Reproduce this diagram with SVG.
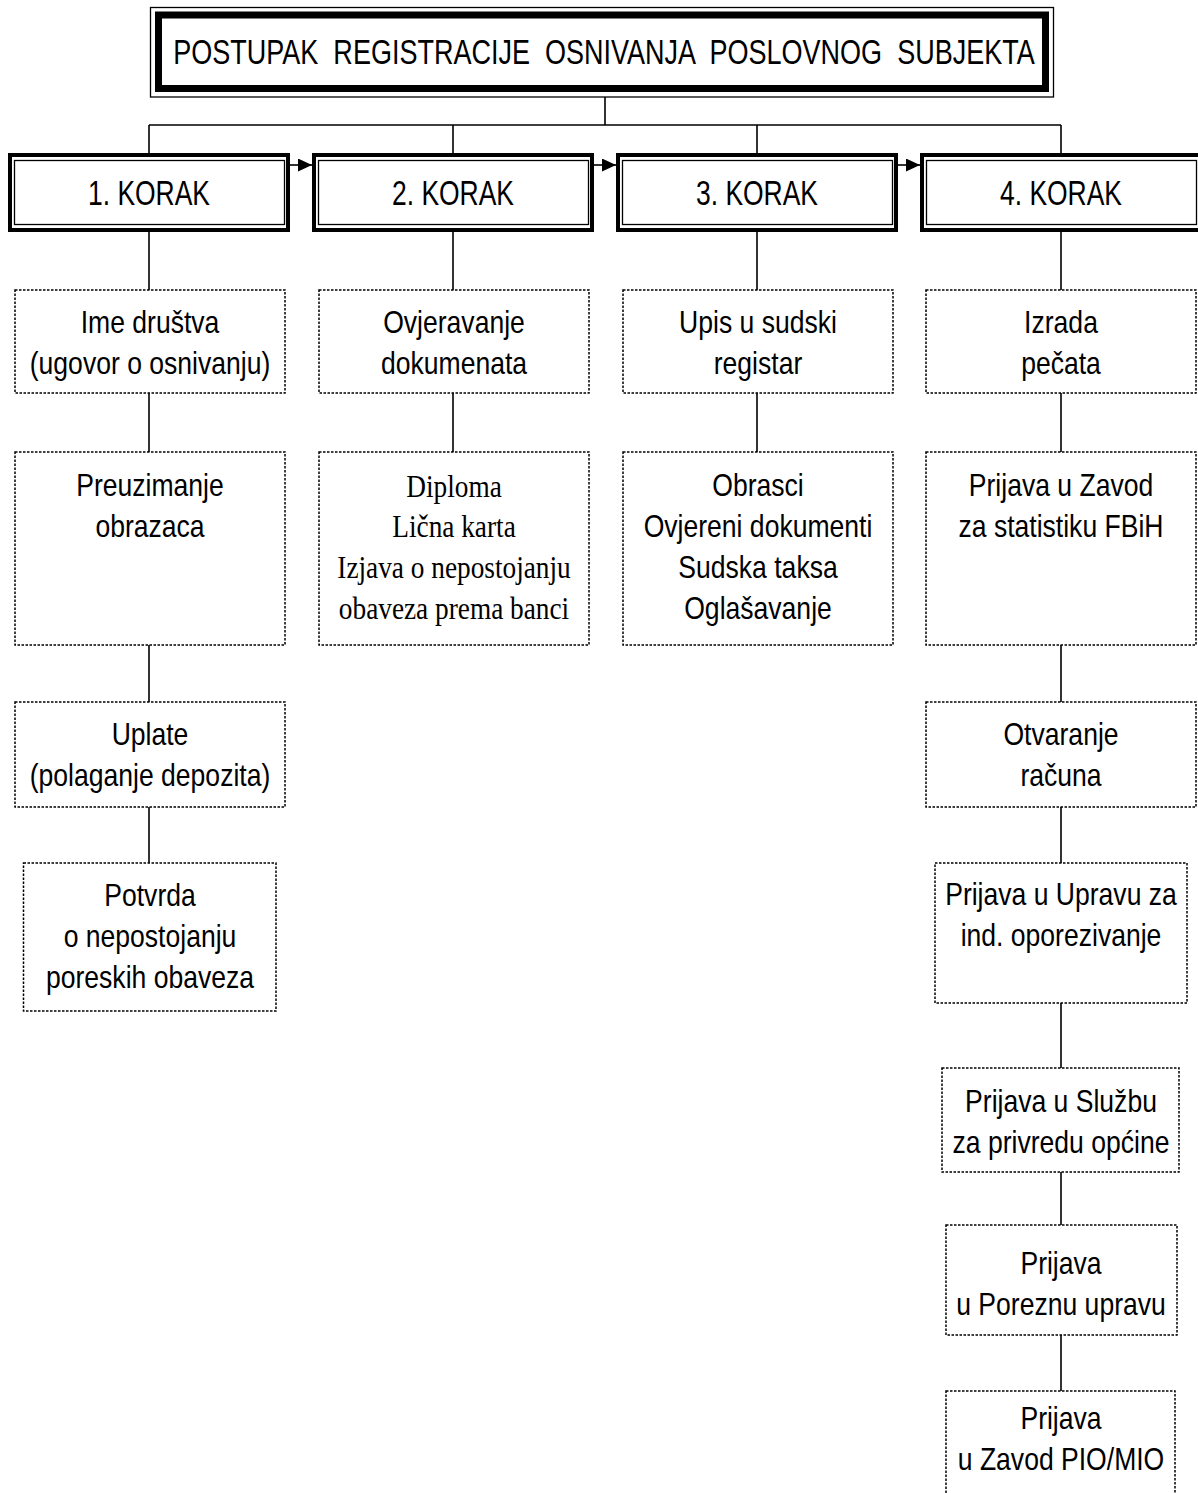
<svg xmlns="http://www.w3.org/2000/svg" width="1198" height="1493" viewBox="0 0 1198 1493">
<style>
.bg{fill:#fff}
.thin{fill:none;stroke:#000;stroke-width:1.3}
.thick{fill:#fff;stroke:#000;stroke-width:4}
.ttl{fill:#fff;stroke:#000;stroke-width:7}
.dot{fill:#fff;stroke:#000;stroke-width:1.5;stroke-dasharray:2.5 1.5}
.conn{stroke:#000;stroke-width:1.6;fill:none}
.t{font-family:"Liberation Sans",Arial,sans-serif;font-size:32px;text-anchor:middle;fill:#000}
.k{font-family:"Liberation Sans",Arial,sans-serif;font-size:35px;text-anchor:middle;fill:#000}
.s{font-family:"Liberation Serif","Times New Roman",serif;font-size:32px;text-anchor:middle;fill:#000}
</style>
<defs>
<marker id="ah" markerUnits="userSpaceOnUse" markerWidth="14" markerHeight="13" refX="14" refY="6.5" orient="auto">
<path d="M0,0 L14,6.5 L0,13 Z" fill="#000"/>
</marker>
</defs>
<rect class="bg" x="0" y="0" width="1198" height="1493"/>

<g id="connectors">
<path class="conn" d="M605,97 V125 M149,125 H1061 M149,125 V155 M453,125 V155 M757,125 V155 M1061,125 V155"/>
<path class="conn" d="M149,231 V290 M149,393 V452 M149,645 V702 M149,807 V863"/>
<path class="conn" d="M453,231 V290 M453,393 V452"/>
<path class="conn" d="M757,231 V290 M757,393 V452"/>
<path class="conn" d="M1061,231 V290 M1061,393 V452 M1061,645 V702 M1061,807 V863 M1061,1003 V1068 M1061,1172 V1225 M1061,1335 V1391"/>
<line class="conn" x1="290" y1="165" x2="312" y2="165" marker-end="url(#ah)"/>
<line class="conn" x1="594" y1="165" x2="616" y2="165" marker-end="url(#ah)"/>
<line class="conn" x1="898" y1="165" x2="920" y2="165" marker-end="url(#ah)"/>
</g>

<g id="title">
<rect class="thin" x="150.5" y="7.5" width="903" height="89.5" fill="#fff"/>
<rect class="ttl" x="158.5" y="15" width="887" height="73.5"/>
<g transform="translate(604 64) scale(0.772 1)">
<text class="k" x="0" y="0" xml:space="preserve">POSTUPAK  REGISTRACIJE  OSNIVANJA  POSLOVNOG  SUBJEKTA</text>
</g>
</g>

<g id="korak1">
<rect class="thick" x="10" y="155" width="278" height="75"/>
<rect class="thin" x="14.5" y="160.5" width="270" height="64"/>
<text class="k" x="149" y="205" textLength="122" lengthAdjust="spacingAndGlyphs">1. KORAK</text>
</g>
<g id="korak2">
<rect class="thick" x="314" y="155" width="278" height="75"/>
<rect class="thin" x="318.5" y="160.5" width="270" height="64"/>
<text class="k" x="453" y="205" textLength="122" lengthAdjust="spacingAndGlyphs">2. KORAK</text>
</g>
<g id="korak3">
<rect class="thick" x="618" y="155" width="278" height="75"/>
<rect class="thin" x="622.5" y="160.5" width="270" height="64"/>
<text class="k" x="757" y="205" textLength="122" lengthAdjust="spacingAndGlyphs">3. KORAK</text>
</g>
<g id="korak4">
<rect class="thick" x="922" y="155" width="278" height="75"/>
<rect class="thin" x="926.5" y="160.5" width="270" height="64"/>
<text class="k" x="1061" y="205" textLength="122" lengthAdjust="spacingAndGlyphs">4. KORAK</text>
</g>

<!-- column 1 -->
<g id="ime">
<rect class="dot" x="15" y="290" width="270" height="103"/>
<g transform="translate(150 0) scale(0.83 1)">
<text class="t" x="0" y="333">Ime društva</text>
<text class="t" x="0" y="374">(ugovor o osnivanju)</text>
</g>
</g>
<g id="preuzimanje">
<rect class="dot" x="15" y="452" width="270" height="193"/>
<g transform="translate(150 0) scale(0.83 1)">
<text class="t" x="0" y="496">Preuzimanje</text>
<text class="t" x="0" y="537">obrazaca</text>
</g>
</g>
<g id="uplate">
<rect class="dot" x="15" y="702" width="270" height="105"/>
<g transform="translate(150 0) scale(0.83 1)">
<text class="t" x="0" y="745">Uplate</text>
<text class="t" x="0" y="786">(polaganje depozita)</text>
</g>
</g>
<g id="potvrda">
<rect class="dot" x="23.5" y="863" width="252.5" height="148"/>
<g transform="translate(150 0) scale(0.83 1)">
<text class="t" x="0" y="906">Potvrda</text>
<text class="t" x="0" y="947">o nepostojanju</text>
<text class="t" x="0" y="988">poreskih obaveza</text>
</g>
</g>

<!-- column 2 -->
<g id="ovjeravanje">
<rect class="dot" x="319" y="290" width="270" height="103"/>
<g transform="translate(454 0) scale(0.83 1)">
<text class="t" x="0" y="333">Ovjeravanje</text>
<text class="t" x="0" y="374">dokumenata</text>
</g>
</g>
<g id="diploma">
<rect class="dot" x="319" y="452" width="270" height="193"/>
<g transform="translate(454 0) scale(0.853 1)">
<text class="s" x="0" y="497">Diploma</text>
<text class="s" x="0" y="537">Lična karta</text>
<text class="s" x="0" y="578">Izjava o nepostojanju</text>
<text class="s" x="0" y="619">obaveza prema banci</text>
</g>
</g>

<!-- column 3 -->
<g id="upis">
<rect class="dot" x="623" y="290" width="270" height="103"/>
<g transform="translate(758 0) scale(0.83 1)">
<text class="t" x="0" y="333">Upis u sudski</text>
<text class="t" x="0" y="374">registar</text>
</g>
</g>
<g id="obrasci">
<rect class="dot" x="623" y="452" width="270" height="193"/>
<g transform="translate(758 0) scale(0.83 1)">
<text class="t" x="0" y="496">Obrasci</text>
<text class="t" x="0" y="537">Ovjereni dokumenti</text>
<text class="t" x="0" y="578">Sudska taksa</text>
<text class="t" x="0" y="619">Oglašavanje</text>
</g>
</g>

<!-- column 4 -->
<g id="izrada">
<rect class="dot" x="926" y="290" width="270" height="103"/>
<g transform="translate(1061 0) scale(0.83 1)">
<text class="t" x="0" y="333">Izrada</text>
<text class="t" x="0" y="374">pečata</text>
</g>
</g>
<g id="statistika">
<rect class="dot" x="926" y="452" width="270" height="193"/>
<g transform="translate(1061 0) scale(0.83 1)">
<text class="t" x="0" y="496">Prijava u Zavod</text>
<text class="t" x="0" y="537">za statistiku FBiH</text>
</g>
</g>
<g id="otvaranje">
<rect class="dot" x="926" y="702" width="270" height="105"/>
<g transform="translate(1061 0) scale(0.83 1)">
<text class="t" x="0" y="745">Otvaranje</text>
<text class="t" x="0" y="786">računa</text>
</g>
</g>
<g id="uprava">
<rect class="dot" x="935" y="863" width="252" height="140"/>
<g transform="translate(1061 0) scale(0.83 1)">
<text class="t" x="0" y="905">Prijava u Upravu za</text>
<text class="t" x="0" y="946">ind. oporezivanje</text>
</g>
</g>
<g id="sluzba">
<rect class="dot" x="942" y="1068" width="237" height="104"/>
<g transform="translate(1061 0) scale(0.83 1)">
<text class="t" x="0" y="1112">Prijava u Službu</text>
<text class="t" x="0" y="1153">za privredu općine</text>
</g>
</g>
<g id="porezna">
<rect class="dot" x="946" y="1225" width="231" height="110"/>
<g transform="translate(1061 0) scale(0.83 1)">
<text class="t" x="0" y="1274">Prijava</text>
<text class="t" x="0" y="1315">u Poreznu upravu</text>
</g>
</g>
<g id="pio">
<rect class="dot" x="946" y="1391" width="229" height="120"/>
<g transform="translate(1061 0) scale(0.83 1)">
<text class="t" x="0" y="1429">Prijava</text>
<text class="t" x="0" y="1470">u Zavod PIO/MIO</text>
</g>
</g>
</svg>
